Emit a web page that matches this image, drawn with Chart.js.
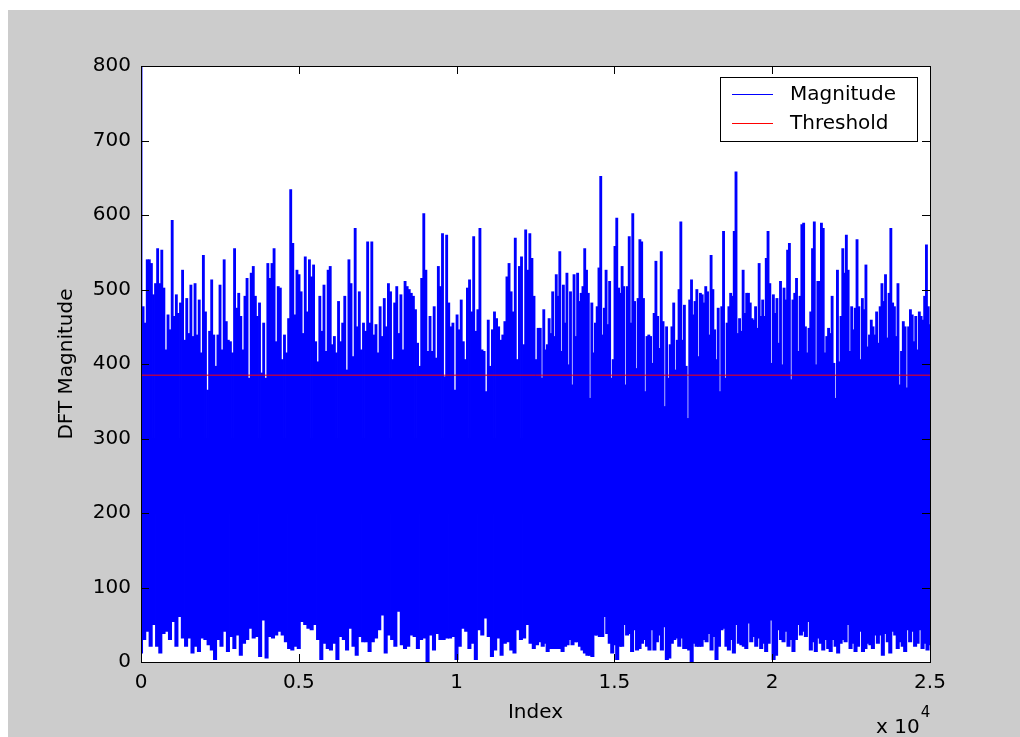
<!DOCTYPE html>
<html>
<head>
<meta charset="utf-8">
<title>DFT Magnitude</title>
<script src="https://cdn.jsdelivr.net/npm/chart.js@4.4.0/dist/chart.umd.min.js"></script>
<style>
  html, body { margin: 0; padding: 0; background: #ffffff; }
  #wrap { position: absolute; left: 8px; top: 10px; width: 1012px; height: 727px; background: #cccccc; }
  canvas { display: block; }
</style>
</head>
<body>
<div id="wrap"><canvas id="dft-chart" width="1012" height="727"></canvas></div>
<script>
// Axis ticks
const xTickValues = [0, 5000, 10000, 15000, 20000, 25000];
const xTickLabels = ['0', '0.5', '1', '1.5', '2', '2.5'];
const yTickValues = [0, 100, 200, 300, 400, 500, 600, 700, 800];

const indexMax = 25000;
const splitIndex = 12650;   // readings were taken in two blocks, the second one starts here
const thresholdValue = 385;

// Upper edge of the magnitude trace (max per column), first block incl. the DC term
const magTopA = [800,
  477, 455, 540, 540, 535, 493, 508, 555, 508, 553,
  502, 419, 466, 446, 593, 464, 493, 468, 482, 526,
  432, 488, 441, 506, 437, 508, 439, 486, 415, 546,
  470, 365, 444, 513, 439, 397, 439, 506, 419, 540,
  457, 432, 430, 415, 555, 475, 495, 464, 419, 491,
  515, 381, 522, 531, 491, 464, 482, 388, 455, 381,
  535, 515, 535, 555, 430, 504, 502, 406, 439, 415,
  461, 634, 562, 466, 526, 520, 497, 441, 544, 470,
  540, 517, 533, 430, 403, 491, 444, 506, 417, 526,
  531, 426, 437, 415, 484, 430, 455, 491, 392, 540,
  508, 410, 582, 450, 497, 419, 455, 444, 564, 455,
  564, 439, 453, 415, 477, 437, 488, 450, 508, 497,
  406, 482, 504, 441, 493, 419, 511, 504, 500, 495,
  491, 473, 428, 397, 515, 602, 526, 417, 464, 417,
  477, 408, 531, 504, 575, 383, 573, 482, 450, 455,
  365, 466, 446, 486, 430, 406, 502, 513, 470, 571,
  444, 473, 582, 419, 417, 363, 459, 397, 446, 470,
  461, 450, 432, 439, 457, 517, 535, 497, 470, 569,
  406, 531, 544, 426, 580, 526, 575, 542, 491, 406,
  448];

const magTopB = [
  448, 381, 473, 419, 426, 461, 441, 497, 437, 520,
  491, 551, 417, 506, 455, 522, 399, 497, 372, 520,
  437, 522, 484, 495, 504, 555, 526, 495, 354, 482,
  415, 455, 477, 529, 652, 439, 475, 526, 453, 511,
  381, 406, 558, 596, 502, 495, 531, 504, 372, 504,
  571, 455, 602, 484, 394, 488, 567, 564, 488, 363,
  437, 439, 437, 401, 468, 538, 464, 421, 551, 457,
  343, 450, 381, 426, 450, 482, 392, 432, 500, 591,
  432, 479, 397, 327, 486, 513, 466, 484, 500, 410,
  495, 493, 482, 504, 497, 439, 546, 500, 446, 406,
  475, 363, 477, 578, 381, 455, 477, 495, 491, 578,
  658, 441, 461, 444, 526, 468, 495, 495, 482, 461,
  459, 477, 448, 535, 464, 486, 464, 542, 578, 508,
  401, 493, 468, 488, 428, 511, 399, 502, 486, 553,
  562, 379, 486, 495, 515, 417, 491, 587, 589, 450,
  415, 448, 470, 555, 591, 399, 511, 511, 589, 582,
  415, 437, 448, 441, 491, 401, 354, 526, 403, 464,
  555, 522, 573, 526, 417, 477, 446, 475, 567, 477,
  406, 488, 473, 533, 423, 439, 459, 450, 439, 470,
  428, 477, 508, 484, 520, 435, 495, 582, 482, 477,
  437, 508, 372, 417, 457, 450, 368, 450, 473, 466,
  430, 464, 419, 470, 464, 459, 491, 560, 477, 453];

// Lower edge of the magnitude trace (min per column)
const magLowA = [
  12, 30, 41, 21, 50, 21, 12, 38, 41, 30,
  54, 21, 61, 32, 21, 32, 12, 21, 14, 32,
  30, 23, 16, 3, 30, 21, 41, 14, 34, 18,
  36, 9, 25, 30, 45, 32, 34, 7, 56, 5,
  34, 32, 36, 41, 36, 27, 18, 16, 21, 18,
  54, 50, 45, 43, 50, 30, 3, 25, 18, 16,
  25, 3, 34, 30, 16, 45, 21, 9, 34, 27,
  27, 14, 27, 32, 43, 63, 12, 36, 30, 21,
  68, 23, 18, 21, 36, 34, 18, 30, 32, 0,
  36, 16, 38, 30, 30, 32, 32, 34, 3, 21,
  45, 41, 18, 25, 3, 43, 36, 59, 34, 7,
  16, 32, 9, 25, 27, 16, 12, 43, 30, 32,
  50, 25, 18, 23];

const magLowB = [
  27, 21, 25, 14, 18, 18, 18, 18, 18, 14,
  21, 23, 30, 23, 27, 27, 21, 16, 12, 9,
  9, 7, 36, 36, 34, 34, 61, 38, 25, 12,
  23, 3, 21, 21, 50, 36, 38, 14, 43, 16,
  18, 25, 30, 21, 16, 43, 16, 27, 36, 16,
  47, 3, 5, 25, 30, 32, 21, 32, 18, 18,
  16, 0, 25, 21, 21, 21, 30, 27, 38, 16,
  34, 3, 21, 43, 45, 21, 16, 30, 12, 50,
  25, 23, 21, 18, 52, 27, 34, 21, 32, 18,
  25, 14, 25, 56, 3, 9, 43, 30, 27, 41,
  21, 30, 14, 30, 50, 36, 41, 34, 54, 16,
  27, 14, 32, 25, 16, 30, 18, 14, 30, 21,
  12, 25, 30, 27, 50, 18, 25, 14, 21, 41,
  14, 18, 25, 23, 18, 36, 25, 36, 9, 38,
  27, 12, 41, 36, 18, 27, 21, 14, 43, 27,
  41, 21, 25, 43, 18, 25, 16, 23];

const blue = '#0000ff';
const red = '#ff0000';
const fontFamily = '"DejaVu Sans", "Liberation Sans", sans-serif';

/**
 * Places the two blocks of readings along the index axis.
 */
function spreadIndex(valsA, valsB) {
  const pts = [];
  const stepA = splitIndex / valsA.length;
  valsA.forEach((v, i) => pts.push({ x: i * stepA, v: v }));
  const stepB = (indexMax - splitIndex) / (valsB.length - 1);
  valsB.forEach((v, i) => pts.push({ x: splitIndex + i * stepB, v: v }));
  return pts;
}

// each column is filled from its min to its max; the two halves overlap in the middle
const upperBars = spreadIndex(magTopA, magTopB).map(p => ({ x: p.x, y: [200, p.v] }));
const lowerBars = spreadIndex(magLowA, magLowB).map(p => ({ x: p.x, y: [p.v, 300] }));
const thresholdLine = [{ x: 0, y: thresholdValue }, { x: indexMax, y: thresholdValue }];

// MATLAB style axes: white plot area, box, inward ticks, legend and x exponent
const matlabAxes = {
  id: 'matlabAxes',
  beforeDatasetsDraw(chart) {
    const { ctx, chartArea: a } = chart;
    ctx.save();
    ctx.fillStyle = '#ffffff';
    ctx.fillRect(a.left, a.top, a.right - a.left, a.bottom - a.top);
    ctx.restore();
  },
  afterDatasetsDraw(chart) {
    const { ctx, chartArea: a, scales } = chart;
    const tickLen = 8;
    const crisp = v => Math.round(v) + 0.5;
    ctx.save();
    ctx.strokeStyle = '#000000';
    ctx.lineWidth = 1;
    ctx.beginPath();
    scales.x.ticks.forEach(t => {
      const px = crisp(scales.x.getPixelForValue(t.value));
      ctx.moveTo(px, a.bottom); ctx.lineTo(px, a.bottom - tickLen);
      ctx.moveTo(px, a.top); ctx.lineTo(px, a.top + tickLen);
    });
    scales.y.ticks.forEach(t => {
      const py = crisp(scales.y.getPixelForValue(t.value));
      ctx.moveTo(a.left, py); ctx.lineTo(a.left + tickLen, py);
      ctx.moveTo(a.right, py); ctx.lineTo(a.right - tickLen, py);
    });
    ctx.stroke();
    ctx.strokeRect(crisp(a.left), crisp(a.top), Math.round(a.right - a.left), Math.round(a.bottom - a.top));

    // legend
    const boxW = 197, boxH = 64;
    const bx = Math.round(a.right - 13 - boxW), by = Math.round(a.top + 11);
    ctx.fillStyle = '#ffffff';
    ctx.fillRect(bx, by, boxW, boxH);
    ctx.strokeRect(bx + 0.5, by + 0.5, boxW, boxH);
    const entries = [['Magnitude', blue, 17], ['Threshold', red, 46]];
    ctx.font = '20px ' + fontFamily;
    ctx.textBaseline = 'middle';
    ctx.textAlign = 'left';
    entries.forEach(([label, color, dy]) => {
      ctx.strokeStyle = color;
      ctx.beginPath();
      ctx.moveTo(bx + 12, by + dy + 0.5);
      ctx.lineTo(bx + 53, by + dy + 0.5);
      ctx.stroke();
      ctx.fillStyle = '#000000';
      ctx.fillText(label, bx + 70, by + dy + 1);
    });

    // x 10^4 under the right end of the x axis
    ctx.textBaseline = 'alphabetic';
    ctx.font = '20px ' + fontFamily;
    const ex = a.right - 54;
    ctx.fillText('x 10', ex, a.bottom + 71);
    const w = ctx.measureText('x 10').width;
    ctx.font = '15px ' + fontFamily;
    ctx.fillText('4', ex + w + 1, a.bottom + 55);
    ctx.restore();
  }
};

const axisFont = { family: fontFamily, size: 20 };

new Chart(document.getElementById('dft-chart'), {
  type: 'bar',
  data: {
    datasets: [
      {
        type: 'line',
        label: 'Threshold',
        data: thresholdLine,
        borderColor: red,
        borderWidth: 1,
        pointRadius: 0,
        order: 0
      },
      {
        label: 'Magnitude',
        data: upperBars,
        backgroundColor: blue,
        borderWidth: 0,
        grouped: false,
        barThickness: 2.2,
        order: 1
      },
      {
        label: 'Magnitude (low)',
        data: lowerBars,
        backgroundColor: blue,
        borderWidth: 0,
        grouped: false,
        barThickness: 3.4,
        order: 2
      }
    ]
  },
  options: {
    responsive: false,
    animation: false,
    events: [],
    layout: { padding: { top: 56, right: 90, bottom: 0, left: 0 } },
    plugins: {
      legend: { display: false },
      tooltip: { enabled: false }
    },
    scales: {
      x: {
        type: 'linear',
        min: 0,
        max: indexMax,
        offset: false,
        afterBuildTicks: scale => { scale.ticks = xTickValues.map(v => ({ value: v })); },
        afterFit: scale => { scale.height = 75; },
        ticks: {
          autoSkip: false,
          maxRotation: 0,
          padding: 9,
          color: '#000000',
          font: axisFont,
          callback: (value, i) => xTickLabels[i]
        },
        grid: { display: false, drawTicks: false, offset: false },
        border: { display: false },
        title: { display: true, text: 'Index', color: '#000000', font: axisFont, padding: { top: 0, bottom: 12 } }
      },
      y: {
        min: 0,
        max: 800,
        afterBuildTicks: scale => { scale.ticks = yTickValues.map(v => ({ value: v })); },
        afterFit: scale => { scale.width = 133; },
        ticks: { padding: 10, color: '#000000', font: axisFont },
        grid: { display: false, drawTicks: false },
        border: { display: false },
        title: { display: true, text: 'DFT Magnitude', color: '#000000', font: axisFont, padding: { top: 47, bottom: 0 } }
      }
    }
  },
  plugins: [matlabAxes]
});
</script>
</body>
</html>
